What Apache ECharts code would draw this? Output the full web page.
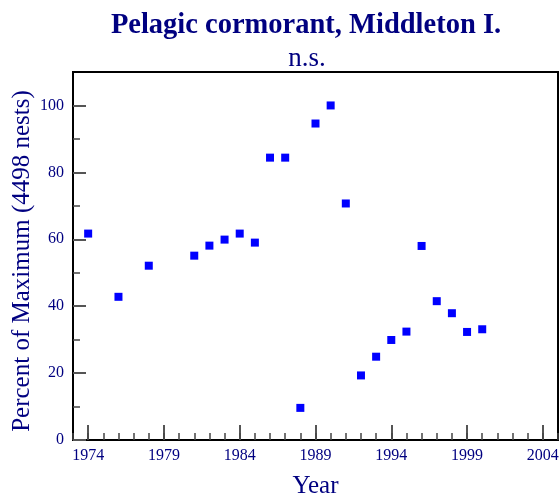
<!DOCTYPE html>
<html>
<head>
<meta charset="utf-8">
<script src="https://cdn.jsdelivr.net/npm/echarts@6/dist/echarts.min.js"></script>
<style>
  html, body { margin: 0; padding: 0; background: #fff; }
  #chart { width: 560px; height: 497px; }
</style>
</head>
<body>
<div id="chart"></div>
<script>
  // years and percent of maximum
  var years = [1974, 1976, 1978, 1981, 1982, 1983, 1984, 1985, 1986, 1987, 1988, 1989, 1990,
               1991, 1992, 1993, 1994, 1995, 1996, 1997, 1998, 1999, 2000]
  var percent = [61.7, 42.8, 52.1, 55.1, 58.1, 59.9, 61.7, 59.0, 84.4, 84.4, 9.6, 94.6, 100,
                 70.7, 19.3, 24.9, 29.9, 32.4, 58.0, 41.5, 37.9, 32.3, 33.1]
  var xMajor = [1974, 1979, 1984, 1989, 1994, 1999, 2004]
  var xMinor = []
  for (var y = 1973; y <= 2005; y++) xMinor.push(y)
  var yMajor = [0, 20, 40, 60, 80, 100]
  var yMinor = [10, 30, 50, 70, 90]

  var points = []
  for (var i = 0; i < years.length; i++) {
      points.push([years[i], percent[i]])
  }

  var navy = '#000080'
  var serif = 'Liberation Serif'

  var myChart = echarts.init(document.getElementById('chart'))
  var option = {
      animation: false,
      title: [{
          text: 'Pelagic cormorant, Middleton I.',
          left: 301,
          top: 6,
          textAlign: 'center',
          textStyle: { color: navy, fontFamily: serif, fontWeight: 'bold', fontSize: 28.5 }
      }, {
          text: 'n.s.',
          left: 302,
          top: 40,
          textAlign: 'center',
          textStyle: { color: navy, fontFamily: serif, fontWeight: 'normal', fontSize: 27 }
      }],
      grid: {
          left: 73, top: 72, right: 2, bottom: 57,
          outerBoundsMode: 'none',
          containLabel: false,
          show: true,
          borderColor: '#000',
          borderWidth: 2
      },
      xAxis: [{
          type: 'value',
          min: 1973,
          max: 2005,
          name: 'Year',
          nameLocation: 'middle',
          nameGap: 34,
          nameMoveOverlap: false,
          nameTextStyle: { color: navy, fontFamily: serif, fontSize: 25 },
          axisLine: { lineStyle: { color: '#000', width: 2 } },
          axisTick: { inside: true, length: 15, customValues: xMajor, lineStyle: { color: '#555', width: 2 } },
          axisLabel: {
              customValues: xMajor, color: navy, fontFamily: serif, fontSize: 16, margin: 8,
              formatter: function(v) { return String(v) }
          },
          splitLine: { show: false }
      }, {
          type: 'value',
          min: 1973,
          max: 2005,
          position: 'bottom',
          axisLine: { show: false },
          axisTick: { inside: true, length: 7, customValues: xMinor, lineStyle: { color: '#444', width: 1.5 } },
          axisLabel: { show: false },
          splitLine: { show: false }
      }],
      yAxis: [{
          type: 'value',
          min: 0,
          max: 110,
          name: 'Percent of Maximum (4498 nests)',
          nameLocation: 'middle',
          nameGap: 38,
          nameMoveOverlap: false,
          nameTextStyle: { color: navy, fontFamily: serif, fontSize: 25, padding: [0, 10, 0, 0] },
          axisLine: { show: true, lineStyle: { color: '#000', width: 2 } },
          axisTick: { show: true, inside: true, length: 13, customValues: yMajor, lineStyle: { color: '#555', width: 2 } },
          axisLabel: { customValues: yMajor, color: navy, fontFamily: serif, fontSize: 16, margin: 9 },
          splitLine: { show: false }
      }, {
          type: 'value',
          min: 0,
          max: 110,
          position: 'left',
          axisLine: { show: false },
          axisTick: { show: true, inside: true, length: 7, customValues: yMinor, lineStyle: { color: '#444', width: 1.5 } },
          axisLabel: { show: false },
          splitLine: { show: false }
      }],
      series: [{
          type: 'scatter',
          data: points,
          symbol: 'rect',
          symbolSize: 8,
          itemStyle: { color: '#0000ff', opacity: 1 }
      }]
  }
  myChart.setOption(option)
</script>
</body>
</html>
